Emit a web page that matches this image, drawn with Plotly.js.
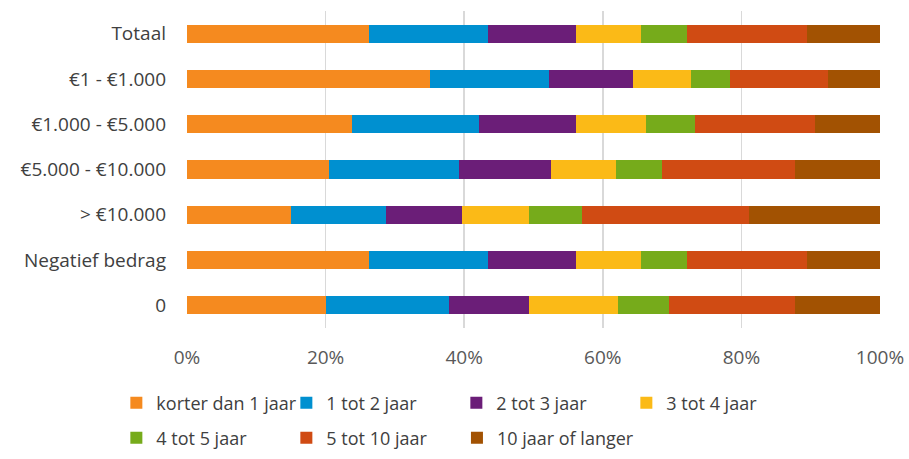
<!DOCTYPE html>
<html>
<head>
<meta charset="utf-8">
<script src="https://cdn.plot.ly/plotly-3.0.1.min.js"></script>
<style>html,body{margin:0;padding:0;background:#fff;}#chart{width:909px;height:459px;}</style>
</head>
<body>
<div id="chart"></div>
<script>
const categories = ["Totaal", "€1 - €1.000", "€1.000 - €5.000", "€5.000 - €10.000", "> €10.000", "Negatief bedrag", "0"];
const seriesNames = ["korter dan 1 jaar", "1 tot 2 jaar", "2 tot 3 jaar", "3 tot 4 jaar", "4 tot 5 jaar", "5 tot 10 jaar", "10 jaar of langer"];
const korter1 = [26.3, 35.0, 23.8, 20.5, 15.0, 26.3, 20.1];
const tot2 = [17.2, 17.3, 18.3, 18.7, 13.7, 17.2, 17.7];
const tot3 = [12.7, 12.0, 14.1, 13.3, 11.0, 12.7, 11.5];
const tot4 = [9.3, 8.4, 10.1, 9.4, 9.6, 9.3, 12.9];
const tot5 = [6.6, 5.7, 7.0, 6.7, 7.7, 6.6, 7.3];
const tot10 = [17.4, 14.1, 17.3, 19.1, 24.1, 17.4, 18.2];
const langer = [10.5, 7.5, 9.4, 12.3, 18.9, 10.5, 12.3];
const xTickVals = [0, 20, 40, 60, 80, 100];
const xTickText = ["0%", "20%", "40%", "60%", "80%", "100%"];

const colors = ["#F58A1F", "#0090D0", "#6B1E78", "#FBBA17", "#76AB1B", "#D04B13", "#A25202"];
const allSeries = [korter1, tot2, tot3, tot4, tot5, tot10, langer];
// legend row / column placement (row 1: 4 items, row 2: 3 items)
const legendIds = ["legend", "legend", "legend", "legend", "legend2", "legend2", "legend3"];

const traces = allSeries.map((vals, i) => ({
  type: "bar",
  orientation: "h",
  name: seriesNames[i],
  x: vals,
  y: categories,
  marker: {color: colors[i], line: {width: 0}},
  legend: legendIds[i],
  hoverinfo: "x+name"
}));

const fam = "'Open Sans', Lato, sans-serif";
const legendFont = {family: fam, size: 18, color: "#404040"};
const legLeft = 0.128;          // container fraction
const colStep = 170.3 / 909;    // column step as container fraction

const baseLegend = {
  orientation: "h", xref: "container", yref: "container",
  xanchor: "left", yanchor: "middle",
  entrywidth: 125, entrywidthmode: "pixels",
  font: legendFont, traceorder: "normal", itemclick: false
};

const layout = {
  width: 909, height: 459,
  margin: {l: 187, r: 29, t: 11, b: 131, autoexpand: false},
  paper_bgcolor: "#fff", plot_bgcolor: "#fff",
  barmode: "stack",
  bargap: 0.6,
  font: {family: fam, color: "#404040"},
  xaxis: {
    range: [0, 100],
    tickvals: xTickVals, ticktext: xTickText,
    showgrid: true, gridcolor: "#D9D9D9", gridwidth: 1.5,
    zeroline: false, showline: false,
    ticks: "", ticklabelstandoff: 16,
    tickfont: {size: 19, color: "#595959"},
    automargin: false,
    fixedrange: true
  },
  yaxis: {
    type: "category",
    categoryorder: "array", categoryarray: categories,
    autorange: "reversed",
    showgrid: false, zeroline: false, showline: false,
    ticks: "", ticklabelstandoff: 20,
    tickfont: {size: 19, color: "#404040"},
    automargin: false,
    fixedrange: true
  },
  legend: Object.assign({}, baseLegend, {x: legLeft, y: 0.122}),
  legend2: Object.assign({}, baseLegend, {x: legLeft, y: 0.0458}),
  legend3: Object.assign({}, baseLegend, {x: legLeft + 2 * colStep, y: 0.0458, entrywidth: 0}),
  showlegend: true
};

Plotly.newPlot("chart", traces, layout, {displayModeBar: false, staticPlot: true});
</script>
</body>
</html>
